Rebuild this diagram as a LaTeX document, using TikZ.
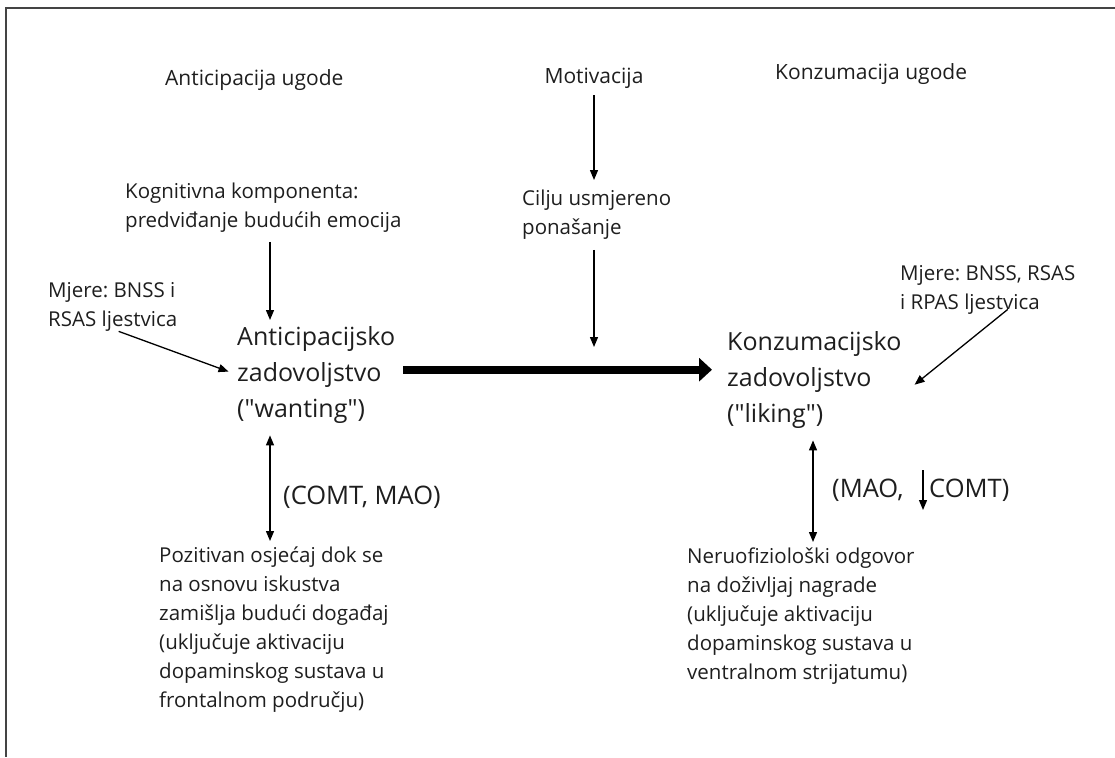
\documentclass[tikz,border=0pt]{standalone}
\usepackage{fontspec}
\setmainfont{Open Sans}[Ligatures=TeXOff]
\usetikzlibrary{arrows.meta}
\frenchspacing
\definecolor{txt}{HTML}{1E1E1E}
\definecolor{frame}{HTML}{444444}
\tikzset{
  sm/.style={font=\fontsize{20.5}{29}\selectfont, inner sep=0pt, align=left, text=txt},
  hd/.style={font=\fontsize{21}{29}\selectfont, inner sep=0pt, align=left, text=txt},
  gn/.style={font=\fontsize{25.5}{30}\selectfont, inner sep=0pt, align=left, text=txt},
  lg/.style={font=\fontsize{25}{36}\selectfont, inner sep=0pt, align=left, text=txt},
  arr/.style={line width=1.3pt, draw=black, -{Triangle[length=10pt,width=8pt]}},
  darr/.style={line width=1.3pt, draw=black, {Triangle[length=10pt,width=8pt]}-{Triangle[length=10pt,width=8pt]}},
  bigarr/.style={line width=8pt, draw=black, -{Triangle[length=13pt,width=23pt]}},
  border/.style={line width=1.5pt, draw=frame}
}
\begin{document}
\frenchspacing
\begin{tikzpicture}[x=1pt,y=-1pt]
\useasboundingbox (0,0) rectangle (1115,757);
\draw[border] (1115,8) -- (6,8) -- (6,757);

% headers
\node[hd,anchor=west] (h1) at (165,80) {Anticipacija ugode};
\node[hd,anchor=center] (h2) at (594,78) {Motivacija};
\node[hd,anchor=west] (h3) at (775,74) {Konzumacija ugode};

% small texts
\node[sm,anchor=north west] (kog) at (125,183) {Kognitivna komponenta:\\predviđanje budućih emocija};
\node[sm,anchor=north west] (cil) at (522,190) {Cilju usmjereno\\ponašanje};
\node[sm,anchor=north west] (mj1) at (48,282) {Mjere: BNSS i\\RSAS ljestvica};
\node[sm,anchor=north west] (mj2) at (900,265) {Mjere: BNSS, RSAS\\i RPAS ljestvica};

% main nodes
\node[lg,anchor=north west] (ant) at (237,326) {Anticipacijsko\\zadovoljstvo\\("wanting")};
\node[lg,anchor=north west] (kon) at (727,331) {Konzumacijsko\\zadovoljstvo\\("liking")};

% gene labels
\node[gn,anchor=west] (comt) at (283,497) {(COMT, MAO)};
\node[gn,anchor=west] (mao) at (832,490) {(MAO,};
\node[gn,anchor=west] (comt2) at (929,490) {COMT)};

% bottom texts
\node[sm,anchor=north west] (poz) at (159,547) {Pozitivan osjećaj dok se\\na osnovu iskustva\\zamišlja budući događaj\\(uključuje aktivaciju\\dopaminskog sustava u\\frontalnom području)};
\node[sm,anchor=north west] (neu) at (687,548) {Neruofiziološki odgovor\\na doživljaj nagrade\\(uključuje aktivaciju\\dopaminskog sustava u\\ventralnom strijatumu)};

% helper coordinates
\coordinate (cx1) at (270,0);
\coordinate (cx2) at (813,0);
\coordinate (mid) at (594,347);
\coordinate (ds) at (923,470);
\coordinate (de) at (923,510);

% connectors
\draw[arr, shorten <=7pt, shorten >=10pt] (h2.south) -- (h2.south |- cil.north);
\draw[arr, shorten <=10pt] (cil.south -| mid) -- (mid);
\draw[arr, shorten <=9pt, shorten >=6pt] (kog.south -| cx1) -- (ant.north -| cx1);
\draw[arr, shorten >=9pt] ([xshift=6pt]mj1.south) -- (ant.west);
\draw[arr] ([xshift=20pt,yshift=5pt]mj2.south) -- ([xshift=13pt,yshift=-5pt]kon.east);
\draw[bigarr, shorten <=8pt, shorten >=15pt] ([yshift=5pt]ant.east) -- ([yshift=5pt]ant.east -| kon.west);
\draw[darr, shorten <=12pt, shorten >=6pt] (ant.south -| cx1) -- (poz.north -| cx1);
\draw[darr, shorten <=12pt, shorten >=6pt] (kon.south -| cx2) -- (neu.north -| cx2);
\draw[arr] (ds) -- (de);
\end{tikzpicture}
\end{document}
